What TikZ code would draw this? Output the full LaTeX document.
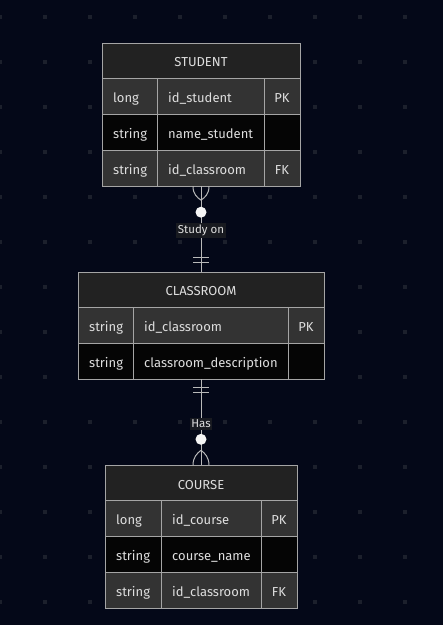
\documentclass[tikz,border=0pt]{standalone}
\usepackage{fontspec}
\setmainfont{Fira Sans}
\usetikzlibrary{positioning, fit}
\definecolor{bgnavy}{RGB}{4,8,24}
\definecolor{griddot}{RGB}{28,32,44}
\definecolor{hdrgray}{RGB}{34,34,34}
\definecolor{rowgray}{RGB}{51,51,51}
\definecolor{rowblack}{RGB}{5,5,5}
\definecolor{edgegray}{RGB}{165,165,165}
\definecolor{linegray}{RGB}{185,185,185}
\definecolor{txtgray}{RGB}{222,222,222}
\definecolor{labelbg}{RGB}{24,26,32}
\definecolor{ringwhite}{RGB}{245,245,245}
\newcommand{\erfont}{\fontsize{13}{15}\selectfont}
\newcommand{\labfont}{\fontsize{11.5}{13}\selectfont}

\begin{document}
\begin{tikzpicture}[
    x=1pt, y=-1pt,
    cell/.style={draw=edgegray, line width=1pt, minimum height=36pt, inner sep=0pt, outer sep=0pt, font=\erfont, text=txtgray, text height=12pt, text depth=0pt},
    hdr/.style={cell, fill=hdrgray, minimum height=35pt},
    rowA/.style={cell, fill=rowgray},
    rowB/.style={cell, fill=rowblack},
    fld/.style={label={[fldtxt]west:#1}},
    fldtxt/.style={anchor=west, xshift=11pt, inner sep=0pt, font=\erfont, text=txtgray, text height=12pt, text depth=0pt},
    rel/.style={draw=linegray, line width=1pt},
    lab/.style={fill=labelbg, font=\labfont, text=txtgray, inner xsep=1.5pt, inner ysep=2pt, yshift=-1.5pt},
    ring/.style={circle, fill=ringwhite, inner sep=0pt, minimum size=11pt}
]

\useasboundingbox (0,0) rectangle (443,625);
\fill[bgnavy] (0,0) rectangle (443,625);
\foreach \gx in {0,45,...,440}
  \foreach \gy in {17,62,...,610}
    \fill[griddot] (\gx-2,\gy-2) rectangle (\gx+2,\gy+2);

% STUDENT
\node[hdr, minimum width=198pt] (stuHead) at (201,60.5) {STUDENT};
\node[rowA, minimum width=55pt, fld=long, below right=0pt of stuHead.south west] (stuT1) {};
\node[rowA, minimum width=107pt, fld=id\_student, right=0pt of stuT1] (stuN1) {};
\node[rowA, minimum width=36pt, right=0pt of stuN1] (stuK1) {PK};
\node[rowB, minimum width=55pt, fld=string, below=0pt of stuT1] (stuT2) {};
\node[rowB, minimum width=107pt, fld=name\_student, right=0pt of stuT2] (stuN2) {};
\node[rowB, minimum width=36pt, right=0pt of stuN2] (stuK2) {};
\node[rowA, minimum width=55pt, fld=string, below=0pt of stuT2] (stuT3) {};
\node[rowA, minimum width=107pt, fld=id\_classroom, right=0pt of stuT3] (stuN3) {};
\node[rowA, minimum width=36pt, right=0pt of stuN3] (stuK3) {FK};
\node[fit=(stuHead)(stuT3)(stuK3), inner sep=0pt] (student) {};

% CLASSROOM
\node[hdr, minimum width=246pt] (clsHead) at (201,289.5) {CLASSROOM};
\node[rowA, minimum width=55pt, fld=string, below right=0pt of clsHead.south west] (clsT1) {};
\node[rowA, minimum width=155pt, fld=id\_classroom, right=0pt of clsT1] (clsN1) {};
\node[rowA, minimum width=36pt, right=0pt of clsN1] (clsK1) {PK};
\node[rowB, minimum width=55pt, fld=string, below=0pt of clsT1] (clsT2) {};
\node[rowB, minimum width=155pt, fld=classroom\_description, right=0pt of clsT2] (clsN2) {};
\node[rowB, minimum width=36pt, right=0pt of clsN2] (clsK2) {};
\node[fit=(clsHead)(clsT2)(clsK2), inner sep=0pt] (classroom) {};

% COURSE
\node[hdr, minimum width=192pt] (crsHead) at (201,483) {COURSE};
\node[rowA, minimum width=56pt, fld=long, below right=0pt of crsHead.south west] (crsT1) {};
\node[rowA, minimum width=100pt, fld=id\_course, right=0pt of crsT1] (crsN1) {};
\node[rowA, minimum width=36pt, right=0pt of crsN1] (crsK1) {PK};
\node[rowB, minimum width=56pt, fld=string, below=0pt of crsT1] (crsT2) {};
\node[rowB, minimum width=100pt, fld=course\_name, right=0pt of crsT2] (crsN2) {};
\node[rowB, minimum width=36pt, right=0pt of crsN2] (crsK2) {};
\node[rowA, minimum width=56pt, fld=string, below=0pt of crsT2] (crsT3) {};
\node[rowA, minimum width=100pt, fld=id\_classroom, right=0pt of crsT3] (crsN3) {};
\node[rowA, minimum width=36pt, right=0pt of crsN3] (crsK3) {FK};
\node[fit=(crsHead)(crsT3)(crsK3), inner sep=0pt] (course) {};

% relations
\draw[rel] (student) -- node[lab] (studyLab) {Study on} (classroom);
\draw[rel] (classroom) -- node[lab] (hasLab) {Has} (course);

% zero or more at STUDENT, exactly one at CLASSROOM
\draw[rel] ([xshift=-8pt]student.south) .. controls +(0pt,-8pt) and +(-4pt,3pt) .. ([yshift=-14pt]student.south);
\draw[rel] ([xshift=8pt]student.south) .. controls +(0pt,-8pt) and +(4pt,3pt) .. ([yshift=-14pt]student.south);
\node[ring] (stuRing) at ([yshift=-26pt]student.south) {};
\foreach \d in {9,14}
  \draw[rel] ([xshift=-8pt, yshift=\d pt]classroom.north) -- ([xshift=8pt, yshift=\d pt]classroom.north);

% exactly one at CLASSROOM, zero or more at COURSE
\foreach \d in {8,13}
  \draw[rel] ([xshift=-8pt, yshift=-\d pt]classroom.south) -- ([xshift=8pt, yshift=-\d pt]classroom.south);
\draw[rel] ([xshift=-8pt]course.north) .. controls +(0pt,8pt) and +(-4pt,-3pt) .. ([yshift=15pt]course.north);
\draw[rel] ([xshift=8pt]course.north) .. controls +(0pt,8pt) and +(4pt,-3pt) .. ([yshift=15pt]course.north);
\node[ring] (crsRing) at ([yshift=26pt]course.north) {};

\end{tikzpicture}
\end{document}
